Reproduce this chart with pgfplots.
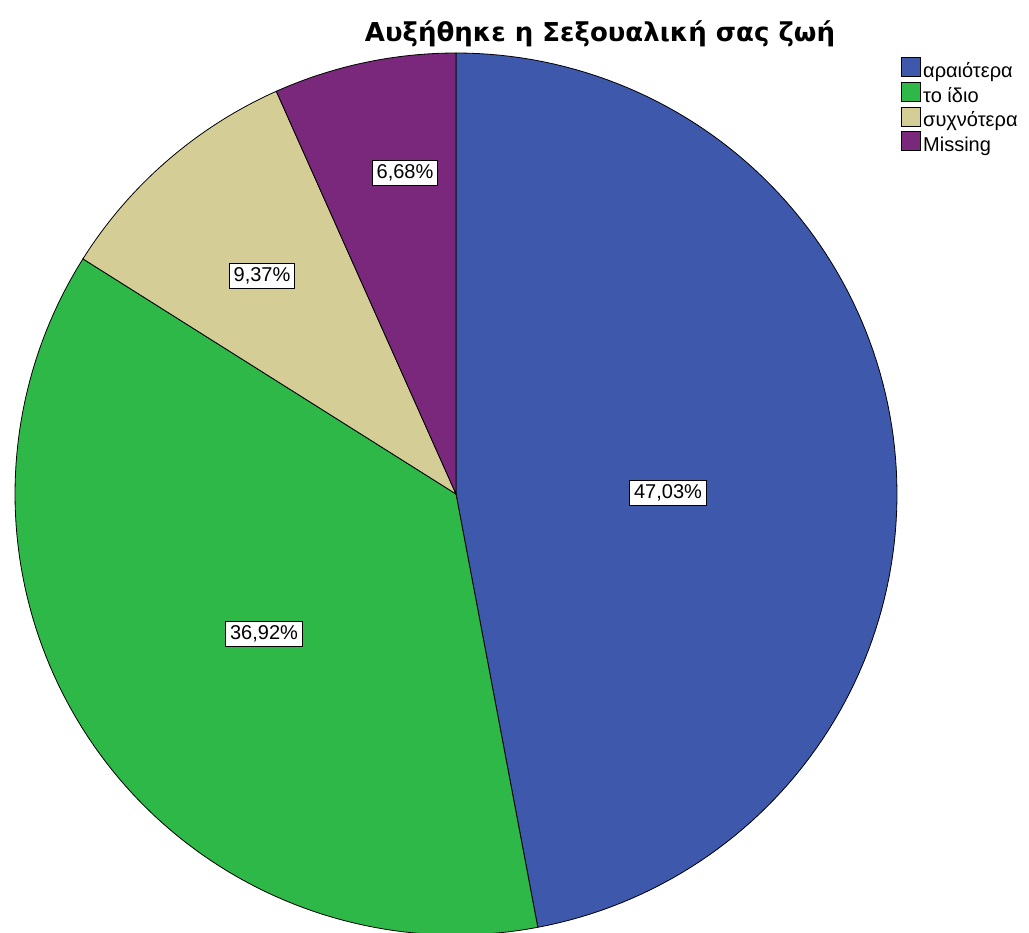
\documentclass[border=0pt]{standalone}
\usepackage{pgfplots}
\pgfplotsset{compat=1.18}
\usepackage{fontspec}
\setmainfont{Liberation Sans}
\newfontfamily\titlefont{DejaVu Sans}
\definecolor{cA}{RGB}{62,88,172}
\definecolor{cB}{RGB}{46,184,72}
\definecolor{cC}{RGB}{212,206,150}
\definecolor{cD}{RGB}{121,40,123}
% percentages
\def\pA{47.03}
\def\pB{36.92}
\def\pC{9.37}
\def\pD{6.68}
\pgfmathsetmacro{\aA}{90}
\pgfmathsetmacro{\aB}{\aA-3.6*\pA}
\pgfmathsetmacro{\aC}{\aB-3.6*\pB}
\pgfmathsetmacro{\aD}{\aC-3.6*\pC}
\pgfmathsetmacro{\aE}{\aD-3.6*\pD}
\def\cx{456}
\def\cy{439}
\def\rr{441}
\pgfplotsset{sq legend/.style={legend image code/.code={\draw[##1,line width=1pt] (0pt,-4.5pt) rectangle (19pt,14.5pt);}}}
\begin{document}
\begin{tikzpicture}
\begin{axis}[
  scale only axis, width=1029pt, height=933pt,
  xmin=0, xmax=1029, ymin=0, ymax=933,
  hide axis,
  legend style={at={(axis cs:901,876)}, anchor=north west, draw=none, fill=none,
    font=\fontsize{20}{24}\selectfont, row sep=0pt, inner sep=0pt,
    nodes={inner ysep=0pt, inner xsep=2pt, text height=15pt, text depth=4.5pt}},
  legend cell align=left,
]
\addplot[fill=cA, draw=black, line width=0.8pt, domain=\aB:\aA, samples=120, sq legend]
  ({\cx+\rr*cos(x)},{\cy+\rr*sin(x)}) -- (axis cs:\cx,\cy) -- cycle;
\addplot[fill=cB, draw=black, line width=0.8pt, domain=\aC:\aB, samples=100, sq legend]
  ({\cx+\rr*cos(x)},{\cy+\rr*sin(x)}) -- (axis cs:\cx,\cy) -- cycle;
\addplot[fill=cC, draw=black, line width=0.8pt, domain=\aD:\aC, samples=40, sq legend]
  ({\cx+\rr*cos(x)},{\cy+\rr*sin(x)}) -- (axis cs:\cx,\cy) -- cycle;
\addplot[fill=cD, draw=black, line width=0.8pt, domain=\aE:\aD, samples=30, sq legend]
  ({\cx+\rr*cos(x)},{\cy+\rr*sin(x)}) -- (axis cs:\cx,\cy) -- cycle;
\legend{αραιότερα, το ίδιο, συχνότερα, Missing}
\begin{scope}[every node/.style={draw=black, fill=white, line width=1pt, inner xsep=4.5pt, inner ysep=4pt, font=\fontsize{20}{24}\selectfont}]
\node at (axis cs:668,440) {47,03\%};
\node at (axis cs:264,299) {36,92\%};
\node at (axis cs:262,657) {9,37\%};
\node at (axis cs:405,760) {6,68\%};
\end{scope}
\node[font=\titlefont\bfseries\fontsize{26}{30}\selectfont, anchor=base] at (axis cs:600,891) {Αυξήθηκε η Σεξουαλική σας ζωή};
\end{axis}
\pgfresetboundingbox
\path (current axis.south west) rectangle (current axis.north east);
\end{tikzpicture}
\end{document}
